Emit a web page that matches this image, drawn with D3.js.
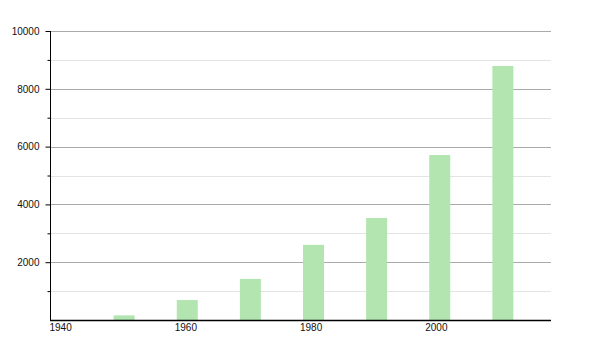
<html>
<head>
  <meta http-equiv='Content-Type' content='text/html;charset=utf-8'>
  <script src="https://cdnjs.cloudflare.com/ajax/libs/d3/7.8.5/d3.min.js"></script>
  <style type='text/css'>
    body { margin: 0; background: #fff; font-family: 'Liberation Sans', Arial, sans-serif; }
    svg text { font-size: 10px; fill: #111; }
  </style>
</head>
<body>
<div id="main"></div>
<script type='text/javascript'>

var years = [1950, 1960, 1970, 1980, 1990, 2000, 2010],
    population = [160, 690, 1420, 2600, 3530, 5710, 8790],
    yMajor = [2000, 4000, 6000, 8000, 10000],
    yMinor = [1000, 3000, 5000, 7000, 9000],
    xTicks = [1940, 1960, 1980, 2000];

var width = 600, height = 350,
    plotLeft = 50, plotRight = 551, plotTop = 31, plotBottom = 320,
    barWidth = 21;

var svg = d3.select('#main').append('svg')
    .attr('width', width)
    .attr('height', height);

var x = d3.scaleLinear().domain([1940, 2020]).range([plotLeft, plotRight]);
var y = d3.scaleLinear().domain([0, 10000]).range([plotBottom, plotTop]);

// minor gridlines
svg.append('g').selectAll('line')
    .data(yMinor)
  .enter().append('line')
    .attr('x1', plotLeft).attr('x2', plotRight)
    .attr('y1', function(d) { return Math.round(y(d)) + 0.5; })
    .attr('y2', function(d) { return Math.round(y(d)) + 0.5; })
    .style('stroke', '#e4e4e4');

// major gridlines
svg.append('g').selectAll('line')
    .data(yMajor)
  .enter().append('line')
    .attr('x1', plotLeft).attr('x2', plotRight)
    .attr('y1', function(d) { return Math.round(y(d)) + 0.5; })
    .attr('y2', function(d) { return Math.round(y(d)) + 0.5; })
    .style('stroke', '#aaaaaa');

// bars
svg.append('g').selectAll('rect')
    .data(years)
  .enter().append('rect')
    .attr('x', function(d, i) { return x(d) + 1 + i * 0.5; })
    .attr('y', function(d, i) { return y(population[i]); })
    .attr('width', barWidth)
    .attr('height', function(d, i) { return y(0) - y(population[i]); })
    .style('fill', '#b2e5b0');

// y axis
var yAxis = d3.axisLeft(y)
    .tickValues(yMajor)
    .tickSize(5)
    .tickPadding(6)
    .tickFormat(d3.format('d'));

var gy = svg.append('g')
    .attr('transform', 'translate(' + (plotLeft + 0.5) + ',0)')
    .call(yAxis);
gy.select('.domain').attr('d', 'M0,' + plotTop + 'V' + (plotBottom + 0.5)).style('stroke', '#000');
gy.selectAll('.tick line').style('stroke', '#000');
gy.selectAll('.tick text')
    .attr('fill', '#111')
    .style('font-family', "'Liberation Sans', Arial, sans-serif").style('font-size', '10px');

var gyMinor = svg.append('g')
    .attr('transform', 'translate(' + (plotLeft + 0.5) + ',0)')
    .call(d3.axisLeft(y).tickValues(yMinor).tickSize(3).tickFormat(''));
gyMinor.select('.domain').remove();
gyMinor.selectAll('.tick line').style('stroke', '#000');

// x axis
var xAxis = d3.axisBottom(x)
    .tickValues(xTicks)
    .tickSize(0)
    .tickPadding(3)
    .tickFormat(d3.format('d'));

var gx = svg.append('g')
    .attr('transform', 'translate(0,' + (plotBottom + 0.5) + ')')
    .call(xAxis);
gx.select('.domain').attr('d', 'M' + plotLeft + ',0H' + plotRight).style('stroke', '#000').style('stroke-width', 1.5);
gx.selectAll('.tick text')
    .attr('text-anchor', 'start')
    .attr('dx', -1)
    .attr('fill', '#111')
    .style('font-family', "'Liberation Sans', Arial, sans-serif").style('font-size', '10px');

</script>
</body>
</html>
